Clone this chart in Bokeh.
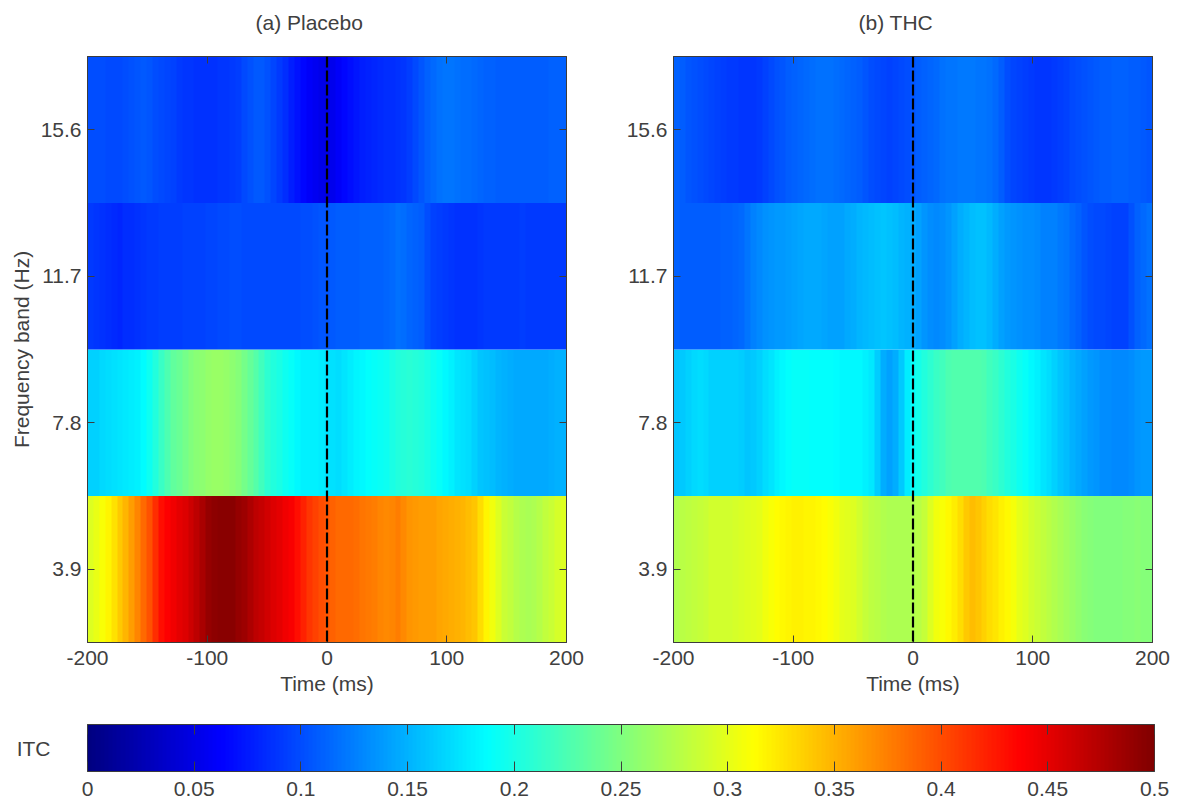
import numpy as np
from bokeh.plotting import figure
from bokeh.layouts import column, row
from bokeh.models import LinearAxis, FixedTicker, LinearColorMapper, Span, Range1d
from bokeh.core.properties import value
from bokeh.embed import file_html
from bokeh.resources import INLINE

time_start, time_end = -200, 200
bands = [3.9, 7.8, 11.7, 15.6]
band_labels = ["3.9", "7.8", "11.7", "15.6"]
time_ticks = [-200, -100, 0, 100, 200]
time_labels = ["-200", "-100", "0", "100", "200"]
itc_ticks = [0, 0.05, 0.1, 0.15, 0.2, 0.25, 0.3, 0.35, 0.4, 0.45, 0.5]
itc_labels = ["0", "0.05", "0.1", "0.15", "0.2", "0.25", "0.3", "0.35", "0.4", "0.45", "0.5"]
panel_titles = ["(a) Placebo", "(b) THC"]

# ITC read every 5 ms from -200 to 200 ms
placebo_15_6 = [.100,.100,.100,.099,.098,.099,.100,.102,.104,.106,
                .104,.101,.098,.096,.094,.091,.089,.088,.087,.087,
                .086,.087,.088,.089,.090,.093,.098,.103,.106,.107,
                .102,.096,.090,.084,.078,.072,.066,.060,.055,.052,
                .050,.054,.060,.065,.070,.074,.078,.080,.082,.083,
                .084,.085,.086,.089,.092,.098,.104,.110,.114,.118,
                .120,.120,.118,.117,.116,.114,.112,.111,.110,.109,
                .108,.108,.108,.108,.108,.108,.108,.109,.110,.110,.110]
placebo_11_7 = [.090,.089,.087,.085,.083,.082,.084,.085,.086,.088,
                .090,.091,.092,.092,.092,.093,.094,.094,.095,.095,
                .096,.097,.098,.099,.100,.100,.099,.098,.098,.098,
                .098,.098,.098,.098,.099,.099,.100,.101,.102,.104,
                .105,.107,.108,.108,.108,.109,.110,.110,.110,.111,
                .112,.115,.118,.116,.112,.110,.108,.100,.094,.092,
                .090,.088,.087,.086,.086,.087,.088,.090,.091,.091,
                .091,.091,.091,.092,.091,.091,.091,.091,.091,.091,.091]
placebo_7_8 = [.165,.166,.168,.170,.172,.174,.176,.178,.180,.187,
               .195,.205,.215,.225,.235,.240,.245,.250,.254,.257,
               .260,.262,.262,.260,.257,.252,.246,.238,.230,.220,
               .210,.205,.200,.195,.190,.185,.180,.180,.180,.178,
               .175,.172,.170,.174,.178,.182,.185,.188,.190,.192,
               .195,.200,.205,.207,.208,.207,.205,.200,.195,.190,
               .185,.180,.175,.172,.170,.165,.160,.157,.155,.152,
               .150,.147,.145,.145,.145,.145,.145,.146,.148,.149,.150]
placebo_3_9 = [.295,.302,.310,.318,.328,.338,.348,.360,.372,.385,
               .397,.415,.430,.438,.445,.450,.455,.462,.470,.480,
               .490,.494,.495,.496,.495,.490,.485,.478,.470,.465,
               .460,.455,.450,.445,.440,.430,.420,.412,.405,.400,
               .395,.390,.385,.385,.385,.383,.380,.378,.375,.372,
               .370,.373,.375,.370,.365,.362,.360,.360,.360,.357,
               .355,.352,.350,.348,.345,.340,.330,.318,.305,.295,
               .287,.282,.277,.273,.270,.273,.277,.282,.287,.292,.295]
thc_15_6 = [.110,.108,.105,.102,.100,.098,.096,.094,.092,.091,
            .090,.089,.089,.089,.090,.094,.098,.102,.105,.108,
            .110,.112,.115,.117,.118,.118,.118,.117,.115,.112,
            .110,.108,.105,.101,.098,.096,.095,.096,.098,.101,
            .105,.108,.110,.113,.115,.118,.120,.121,.122,.122,
            .122,.121,.120,.118,.115,.108,.100,.097,.095,.092,
            .090,.089,.088,.089,.090,.092,.095,.098,.100,.103,
            .105,.107,.108,.109,.110,.110,.110,.109,.108,.106,.105]
thc_11_7 = [.110,.109,.108,.108,.108,.108,.108,.109,.110,.111,
            .112,.115,.120,.126,.130,.133,.135,.137,.138,.140,
            .142,.144,.146,.146,.146,.143,.141,.141,.142,.146,
            .148,.151,.153,.156,.158,.159,.158,.156,.152,.150,
            .148,.142,.136,.132,.130,.132,.136,.142,.147,.152,
            .155,.158,.158,.154,.148,.142,.138,.135,.133,.132,
            .131,.129,.126,.125,.125,.123,.120,.115,.110,.105,
            .100,.099,.098,.096,.095,.095,.095,.102,.110,.114,.118]
thc_7_8 = [.160,.162,.165,.168,.170,.168,.165,.165,.165,.165,
           .165,.163,.160,.162,.165,.170,.175,.180,.185,.188,
           .190,.190,.190,.189,.188,.188,.188,.186,.185,.185,
           .185,.184,.181,.176,.163,.148,.141,.147,.162,.178,
           .190,.198,.205,.210,.215,.220,.225,.227,.228,.228,
           .228,.227,.225,.220,.215,.210,.205,.200,.195,.190,
           .185,.180,.175,.170,.165,.160,.155,.150,.145,.141,
           .138,.135,.132,.131,.130,.130,.130,.132,.135,.137,.138]
thc_3_9 = [.275,.278,.280,.282,.285,.287,.290,.290,.290,.291,
           .292,.293,.295,.297,.300,.305,.310,.313,.315,.318,
           .320,.320,.318,.317,.315,.313,.310,.305,.300,.297,
           .295,.290,.285,.281,.278,.275,.272,.272,.272,.273,
           .275,.279,.285,.295,.305,.310,.315,.322,.330,.338,
           .345,.340,.335,.330,.325,.320,.315,.308,.300,.295,
           .290,.286,.283,.279,.275,.270,.266,.262,.258,.255,
           .252,.250,.250,.250,.250,.250,.252,.253,.254,.253,.252]

FONT = "Liberation Sans"
TXT = "#404040"
EDGE = "#3c3c3c"
FS = "21px"
PAGE_W = 1174
STRIP_H = 56


def jet(n=256):
    out = []
    for i in range(n):
        t = (i + 0.5) / n
        r = np.clip(min(4 * t - 1.5, -4 * t + 4.5), 0, 1)
        g = np.clip(min(4 * t - 0.5, -4 * t + 3.5), 0, 1)
        b = np.clip(min(4 * t + 0.5, -4 * t + 2.5), 0, 1)
        out.append("#%02x%02x%02x" % (int(r * 255), int(g * 255), int(b * 255)))
    return out


mapper = LinearColorMapper(palette=jet(), low=itc_ticks[0], high=itc_ticks[-1])


def style_axis(ax, tick_in, labelled):
    ax.major_tick_in = tick_in
    ax.major_tick_out = 0
    ax.minor_tick_line_color = None
    ax.axis_line_color = EDGE
    ax.major_tick_line_color = EDGE
    if labelled:
        ax.major_label_text_font = FONT
        ax.major_label_text_font_size = FS
        ax.major_label_text_color = TXT
        ax.axis_label_text_font = FONT
        ax.axis_label_text_font_size = FS
        ax.axis_label_text_font_style = "normal"
        ax.axis_label_text_color = TXT
    else:
        ax.major_label_text_font_size = "0px"
        ax.major_label_text_color = None
        ax.major_label_standoff = 0


def panel(rows, width, left, right, y_label):
    half = (bands[1] - bands[0]) / 2
    p = figure(width=width, height=644, output_backend="svg", toolbar_location=None,
               x_range=Range1d(time_start, time_end),
               y_range=Range1d(bands[0] - half, bands[-1] + half),
               min_border_left=left, min_border_right=right, min_border_top=0, min_border_bottom=58,
               x_axis_label="Time (ms)", y_axis_label=y_label)
    p.grid.visible = False
    p.outline_line_color = EDGE
    for band, vals in zip(bands, rows):
        p.image(image=[np.array(vals, dtype=float).reshape(1, -1)], x=time_start, y=band - half,
                dw=time_end - time_start, dh=2 * half, color_mapper=mapper)
    p.add_layout(Span(location=0, dimension="height", line_color="#000000", line_width=2.2,
                      line_dash="11 3"))
    p.xaxis.ticker = FixedTicker(ticks=time_ticks)
    p.xaxis.major_label_overrides = dict(zip(time_ticks, time_labels))
    p.yaxis.ticker = FixedTicker(ticks=bands)
    p.yaxis.major_label_overrides = dict(zip(bands, band_labels))
    style_axis(p.xaxis[0], 7, True)
    style_axis(p.yaxis[0], 7, True)
    p.xaxis.axis_label_standoff = 4
    p.xaxis.major_label_standoff = 8
    p.yaxis.major_label_standoff = 6
    p.yaxis.axis_label_standoff = 5
    top = LinearAxis(ticker=FixedTicker(ticks=time_ticks))
    rgt = LinearAxis(ticker=FixedTicker(ticks=bands))
    style_axis(top, 7, False)
    style_axis(rgt, 7, False)
    p.add_layout(top, "above")
    p.add_layout(rgt, "right")
    return p


# The column aligns this strip's frame with the colour bar's frame, which spans 87..1154.
strip = figure(width=PAGE_W, height=STRIP_H, output_backend="svg", toolbar_location=None,
               x_range=Range1d(87, 1154), y_range=Range1d(STRIP_H, 0),
               x_axis_location=None, y_axis_location=None,
               min_border_left=0, min_border_right=0, min_border_top=0, min_border_bottom=0)
strip.grid.visible = False
strip.outline_line_color = None
strip.text(x=[255, 858], y=[22, 22], text=panel_titles, text_font=value(FONT), text_font_size=value(FS),
           text_color=TXT, text_baseline="middle", text_align="left")

p1 = panel([placebo_3_9, placebo_7_8, placebo_11_7, placebo_15_6], 620, 87, 54, "Frequency band (Hz)")
p2 = panel([thc_3_9, thc_7_8, thc_11_7, thc_15_6], 554, 53, 22, None)

ramp = np.linspace(itc_ticks[0], itc_ticks[-1], 256).reshape(1, -1)
p3 = figure(width=PAGE_W, height=104, output_backend="svg", toolbar_location=None,
            x_range=Range1d(itc_ticks[0], itc_ticks[-1]), y_range=Range1d(0, 1),
            min_border_left=87, min_border_right=20, min_border_top=24, min_border_bottom=33,
            y_axis_label="ITC")
p3.grid.visible = False
p3.outline_line_color = EDGE
p3.image(image=[ramp], x=itc_ticks[0], y=0, dw=itc_ticks[-1] - itc_ticks[0], dh=1, color_mapper=mapper)
p3.xaxis.ticker = FixedTicker(ticks=itc_ticks)
p3.xaxis.major_label_overrides = dict(zip(itc_ticks, itc_labels))
style_axis(p3.xaxis[0], 10, True)
p3.xaxis.major_label_standoff = 10
top3 = LinearAxis(ticker=FixedTicker(ticks=itc_ticks))
style_axis(top3, 10, False)
p3.add_layout(top3, "above")
yax = p3.yaxis[0]
yax.ticker = FixedTicker(ticks=[])
yax.major_tick_line_color = None
yax.minor_tick_line_color = None
yax.axis_line_color = None
yax.major_label_text_font_size = "0px"
yax.axis_label_orientation = "horizontal"
yax.axis_label_text_font = FONT
yax.axis_label_text_font_size = FS
yax.axis_label_text_font_style = "normal"
yax.axis_label_text_color = TXT
yax.axis_label_text_baseline = "alphabetic"
yax.axis_label_standoff = 37

layout = column(strip, row(p1, p2, spacing=0), p3, spacing=0)
open("out.html", "w").write(file_html(layout, INLINE))
